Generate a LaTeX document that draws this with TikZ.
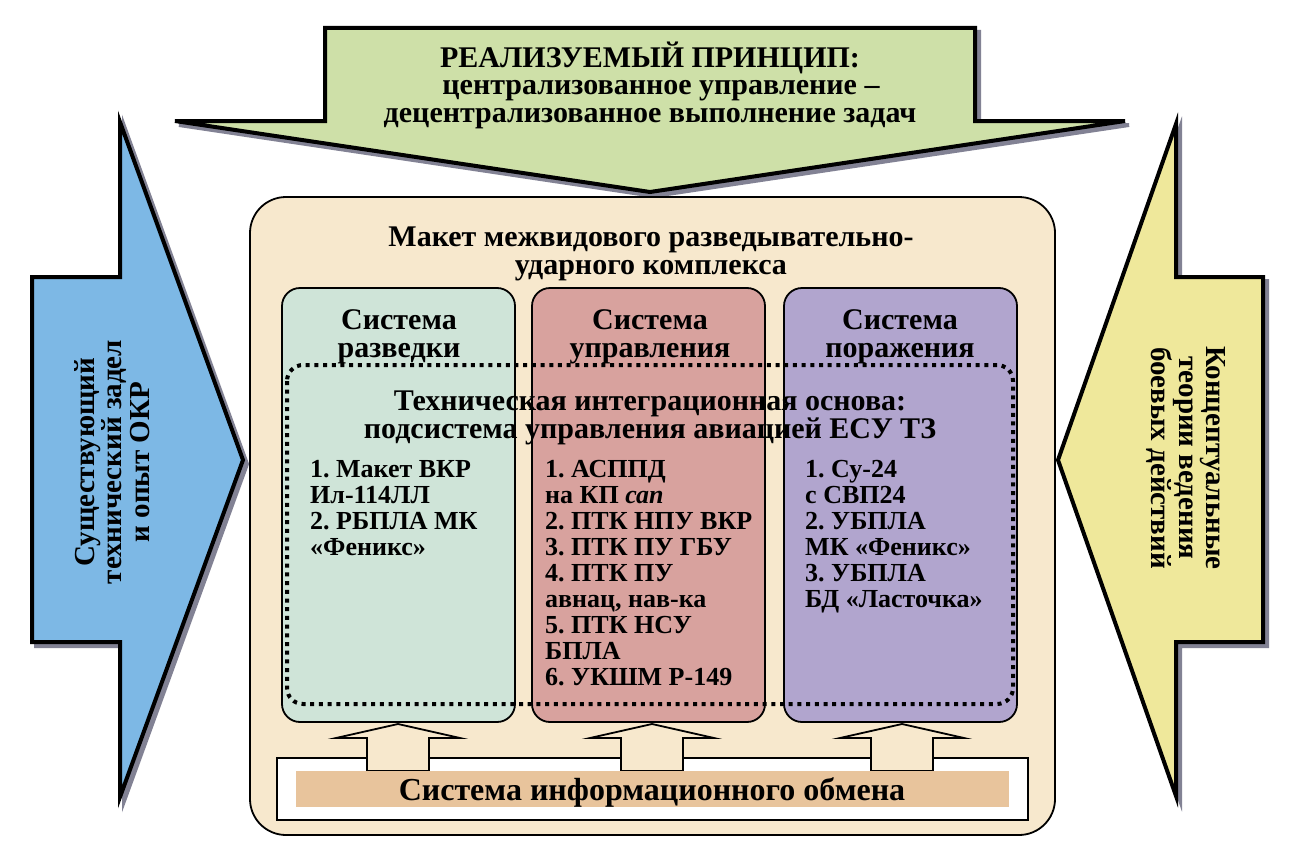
\documentclass[tikz,border=0pt]{standalone}
\usepackage{fontspec}
\setmainfont{Liberation Serif}
\frenchspacing
\definecolor{topgreen}{RGB}{206,224,168}
\definecolor{leftblue}{RGB}{125,184,229}
\definecolor{rightyellow}{RGB}{239,232,155}
\definecolor{cream}{RGB}{247,232,205}
\definecolor{boxgreen}{RGB}{207,228,216}
\definecolor{boxred}{RGB}{216,162,158}
\definecolor{boxpurple}{RGB}{177,165,206}
\definecolor{barorange}{RGB}{232,196,156}
\definecolor{shadowgray}{RGB}{130,130,148}
\begin{document}
\begin{tikzpicture}[x=1pt,y=-1pt,
  bigarrow/.style={draw=black,line width=4pt,line join=miter,miter limit=12},
  shadowarrow/.style={draw=shadowgray,fill=shadowgray,line width=4pt,line join=miter,miter limit=12},
  sysbox/.style={draw=black,line width=1.8pt,rounded corners=18pt},
  txt/.style={font=\bfseries\fontsize{30}{28}\selectfont,align=center,inner sep=0pt},
  sidetxt/.style={font=\bfseries\fontsize{29}{27.5}\selectfont,align=center,inner sep=0pt},
  listtxt/.style={font=\bfseries\fontsize{26}{26}\selectfont,align=left,inner sep=0pt,anchor=north west},
  uparrow/.style={draw=black,line width=1.8pt,fill=cream,line join=miter}
]
\useasboundingbox (0,0) rectangle (1300,859);
\fill[white] (0,0) rectangle (1300,859);

% ---- top arrow
\begin{scope}[shift={(4,4)}]
\path[shadowarrow] (325,28) -- (975,28) -- (975,121) -- (1125,121) -- (650,192) -- (175,121) -- (325,121) -- cycle;
\end{scope}
\path[bigarrow,fill=topgreen] (325,28) -- (975,28) -- (975,121) -- (1125,121) -- (650,192) -- (175,121) -- (325,121) -- cycle;

% ---- left arrow
\begin{scope}[shift={(4,4)}]
\path[shadowarrow] (32,277) -- (120,277) -- (120,122) -- (243,460) -- (120,797) -- (120,642) -- (32,642) -- cycle;
\end{scope}
\path[bigarrow,fill=leftblue] (32,277) -- (120,277) -- (120,122) -- (243,460) -- (120,797) -- (120,642) -- (32,642) -- cycle;

% ---- right arrow
\begin{scope}[shift={(4,4)}]
\path[shadowarrow] (1263,277) -- (1176,277) -- (1176,124) -- (1058,460) -- (1176,796) -- (1176,642) -- (1263,642) -- cycle;
\end{scope}
\path[bigarrow,fill=rightyellow] (1263,277) -- (1176,277) -- (1176,124) -- (1058,460) -- (1176,796) -- (1176,642) -- (1263,642) -- cycle;

% ---- outer box
\draw[fill=cream,line width=1.8pt,rounded corners=36pt] (250,197) rectangle (1055,835);

% ---- system boxes
\draw[sysbox,fill=boxgreen] (282,288) rectangle (515,722);
\draw[sysbox,fill=boxred] (532,288) rectangle (765,722);
\draw[sysbox,fill=boxpurple] (784,288) rectangle (1017,722);

% ---- dotted integration frame
\draw[line width=4pt,dash pattern=on 4pt off 4.7pt,rounded corners=16pt] (287,365) rectangle (1013,704);

% ---- bottom frame
\draw[line width=1.8pt,fill=white] (277,758) rectangle (1028,820);

% ---- up arrows
\foreach \cx in {398,652,902}{
  \path[uparrow] (\cx,724) -- (\cx+62,738) -- (\cx+31,738) -- (\cx+31,771) -- (\cx-31,771) -- (\cx-31,738) -- (\cx-62,738) -- cycle;
}
\fill[barorange] (296,771) rectangle (1009,807);

% ---- texts
\node[txt,font=\bfseries\fontsize{30}{27.5}\selectfont] (top) at (650,85) {РЕАЛИЗУЕМЫЙ ПРИНЦИП:\\\hspace*{22pt}централизованное управление –\\децентрализованное выполнение задач};

\node[sidetxt,rotate=90] (lt) at (112,462) {Существующий\\технический задел\\и опыт ОКР};
\node[sidetxt,rotate=-90] (rt) at (1186,458) {Концептуальные\\теории ведения\\боевых действий};

\node[txt] (mk) at (651,254) {Макет межвидового разведывательно-\\ударного комплекса};

\node[txt] (s1) at (399,337) {Система\\разведки};
\node[txt] (s2) at (650,337) {Система\\управления};
\node[txt] (s3) at (900,337) {Система\\поражения};

\node[txt] (tio) at (650,418) {Техническая интеграционная основа:\\подсистема управления авиацией ЕСУ ТЗ};

\node[listtxt] (l1) at (310,460) {1. Макет ВКР\\Ил-114ЛЛ\\2. РБПЛА МК\\«Феникс»};
\node[listtxt] (l2) at (545,460) {1. АСППД\\на КП \textit{сап}\\2. ПТК НПУ ВКР\\3. ПТК ПУ ГБУ\\4. ПТК ПУ\\авнац, нав-ка\\5. ПТК НСУ\\БПЛА\\6. УКШМ Р-149};
\node[listtxt] (l3) at (805,460) {1. Су-24\\с СВП24\\2. УБПЛА\\МК «Феникс»\\3. УБПЛА\\БД «Ласточка»};

\node[txt,font=\bfseries\fontsize{32}{32}\selectfont] (sio) at (652,792) {Система информационного обмена};
\end{tikzpicture}
\end{document}
